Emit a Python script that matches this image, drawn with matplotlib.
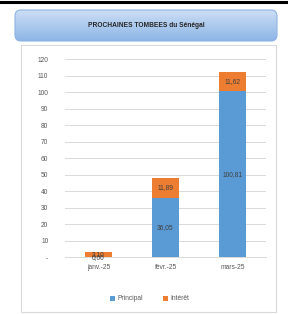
import numpy as np
import matplotlib
matplotlib.use('Agg')
import matplotlib.pyplot as plt
from matplotlib.patches import FancyBboxPatch, Rectangle
from matplotlib.lines import Line2D

months = ['janv.-25', 'févr.-25', 'mars-25']
principal = [0.00, 36.05, 100.81]
interet = [3.10, 11.89, 11.62]
principal_labels = ['0,00', '36,05', '100,81']
interet_labels = ['3,10', '11,89', '11,62']
yticks = list(range(0, 121, 10))
ytick_labels = ['-'] + [str(v) for v in yticks[1:]]

BLUE = '#5B9BD5'
ORANGE = '#ED7D31'
GRAY = '#595959'

W, H = 288, 314
fig = plt.figure(figsize=(W / 100, H / 100), dpi=100)
fig.patch.set_facecolor('white')

# black rule at the very top
fig.add_artist(Line2D([0, 1], [1 - 1.5 / H, 1 - 1.5 / H], color='black', lw=2.2,
                      transform=fig.transFigure))

# chart panel border (behind the axes)
fig.add_artist(Rectangle((21 / W, 1 - 312 / H), 255 / W, 267 / H, transform=fig.transFigure,
                         facecolor='white', edgecolor='#D9D9D9', lw=0.8, zorder=-1))

# title box with gradient
bx0, by0, bw, bh = 15 / W, 1 - 41 / H, 262 / W, 31 / H
box = FancyBboxPatch((bx0, by0), bw, bh, boxstyle='round,pad=0,rounding_size=0.02',
                     transform=fig.transFigure, facecolor='none', edgecolor='#8EB4E3', lw=0.8,
                     zorder=3)
fig.add_artist(box)
gax = fig.add_axes([bx0, by0, bw, bh])
gax.set_axis_off()
grad = np.linspace(0, 1, 50).reshape(-1, 1)
top = np.array([0.80, 0.87, 0.96])
bot = np.array([0.55, 0.71, 0.90])
img = top + (bot - top) * grad[:, :, None]
im = gax.imshow(img, aspect='auto', extent=[bx0, bx0 + bw, by0, by0 + bh],
                transform=fig.transFigure)
im.set_clip_path(FancyBboxPatch((bx0, by0), bw, bh, boxstyle='round,pad=0,rounding_size=0.02',
                                transform=fig.transFigure))
fig.text(bx0 + bw / 2, by0 + bh / 2, 'PROCHAINES TOMBEES du Sénégal', ha='center', va='center',
         fontsize=4.8, fontweight='bold', color='#262626', family='Liberation Sans')

ax = fig.add_axes([65 / W, 1 - 257.3 / H, 201 / W, 198 / H])
ax.set_zorder(2)
ax.patch.set_alpha(0)
x = np.arange(len(months))
b1 = ax.bar(x, principal, width=0.4, color=BLUE, label='Principal', zorder=2)
b2 = ax.bar(x, interet, width=0.4, bottom=principal, color=ORANGE, label='Intérêt', zorder=2)

for i in range(len(months)):
    ax.text(x[i], principal[i] / 2, principal_labels[i], ha='center', va='center',
            fontsize=4.8, color='#404040', family='Liberation Sans', zorder=3)
    ax.text(x[i], principal[i] + interet[i] / 2, interet_labels[i], ha='center', va='center',
            fontsize=4.8, color='#404040', family='Liberation Sans', zorder=3)

ax.set_xlim(-0.5, 2.5)
ax.set_ylim(0, 120)
ax.set_yticks(yticks)
ax.set_yticklabels(ytick_labels)
ax.set_xticks(x)
ax.set_xticklabels(months)
ax.grid(axis='y', color='#D9D9D9', lw=0.7, zorder=0)
for s in ['top', 'right', 'left']:
    ax.spines[s].set_visible(False)
ax.spines['bottom'].set_color('#D9D9D9')
ax.spines['bottom'].set_linewidth(0.7)
ax.tick_params(axis='both', length=0, labelsize=4.8, labelcolor=GRAY, pad=5)
ax.tick_params(axis='y', pad=12)
for t in ax.get_xticklabels() + ax.get_yticklabels():
    t.set_family('Liberation Sans')

leg = fig.legend(handles=[b1, b2], labels=['Principal', 'Intérêt'], loc='center',
                 bbox_to_anchor=(150 / W, 1 - 299 / H), ncol=2, frameon=False,
                 prop={'family': 'Liberation Sans', 'size': 4.8}, handlelength=0.7,
                 handleheight=0.7, columnspacing=3.0, handletextpad=0.4)
for t in leg.get_texts():
    t.set_color(GRAY)

fig.savefig('out.png', dpi=100)
